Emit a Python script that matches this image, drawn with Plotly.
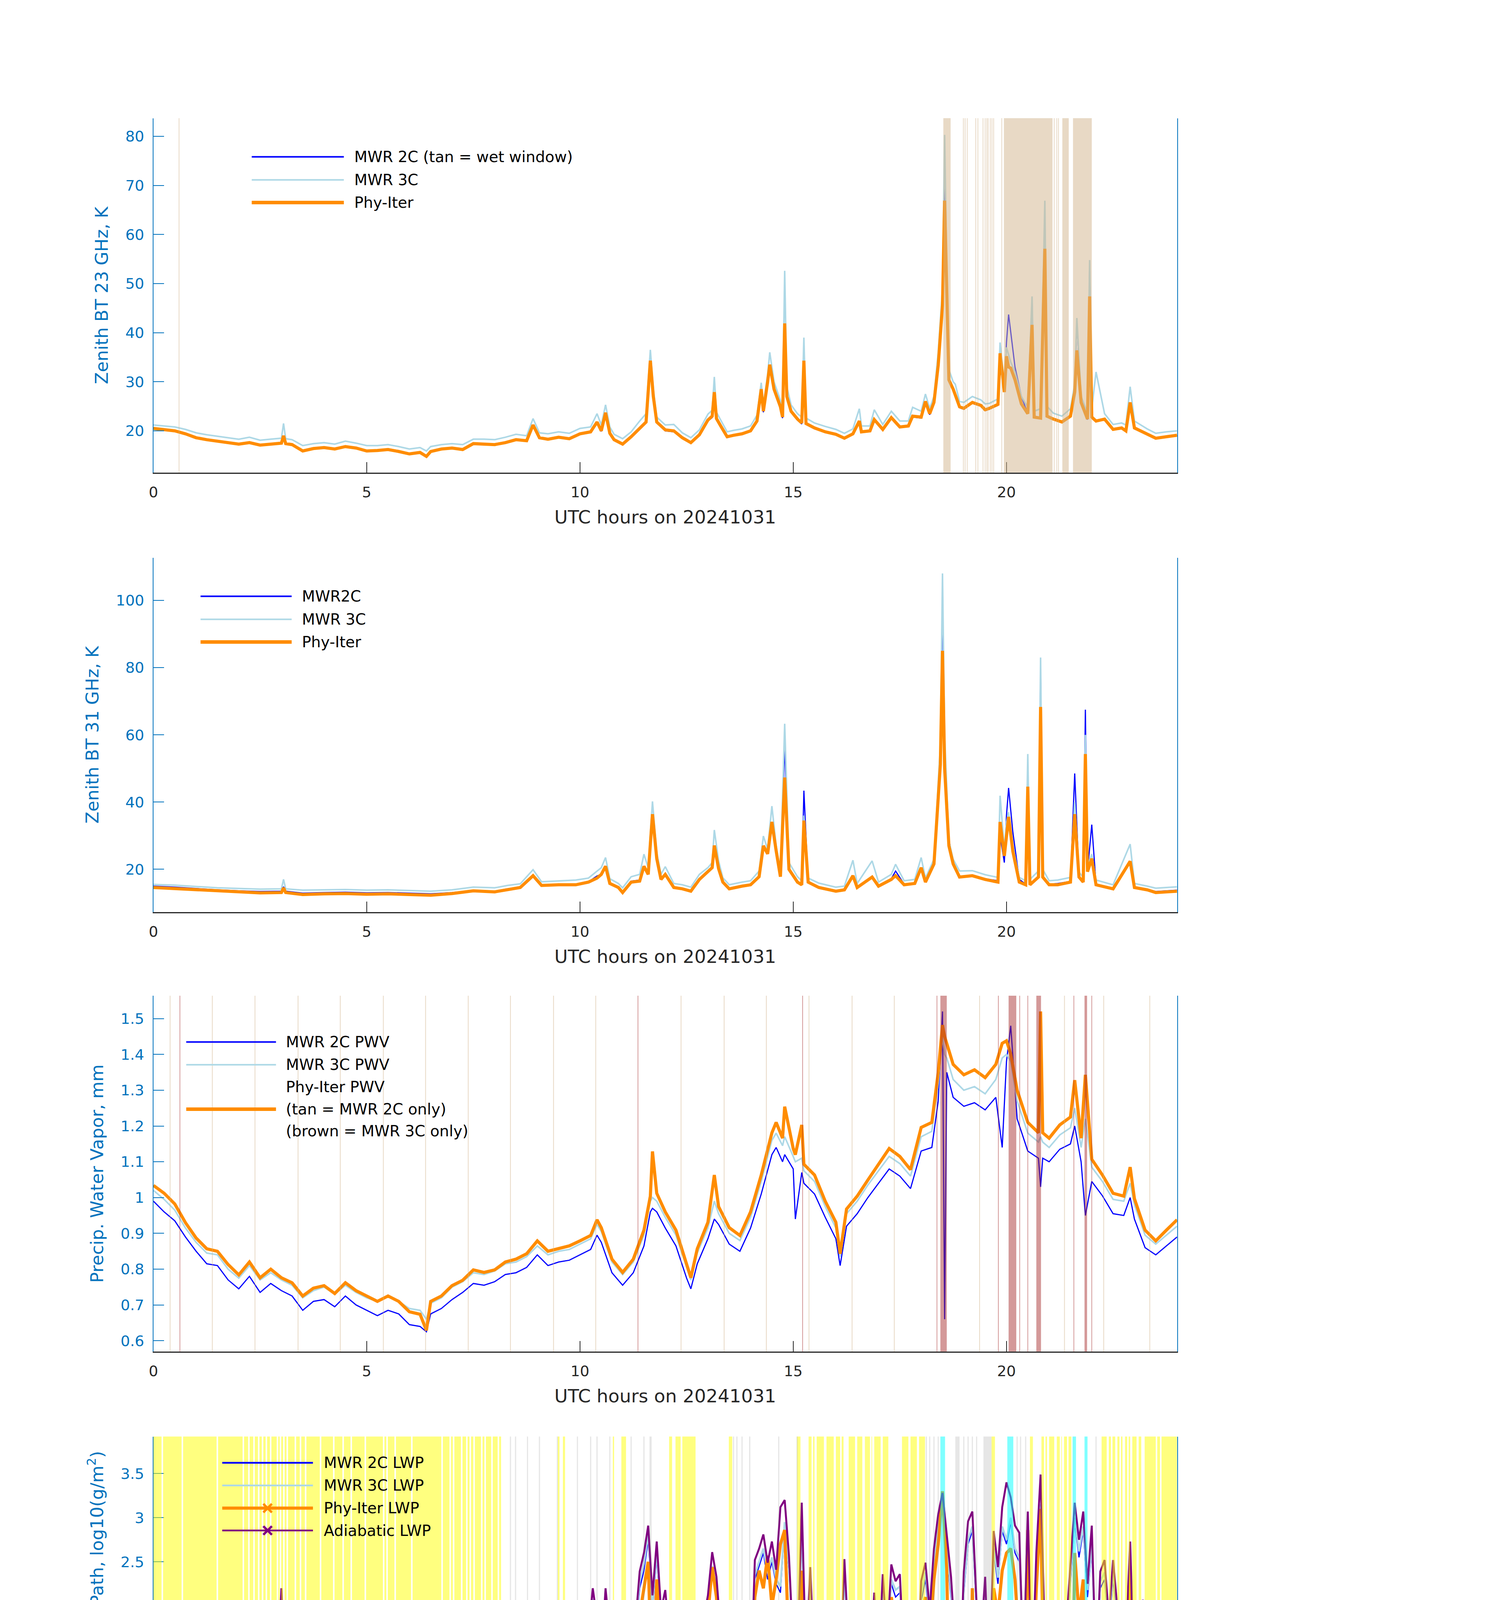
import plotly.graph_objects as go

FONT = "DejaVu Sans"
AXBLUE = "#0072BD"
DARK = "#262626"
C2C = "#0000FF"
C3C = "#ADD8E6"
CPHY = "#FF8C00"
CADI = "#800080"
N = None

# ---------------- panel 1: zenith BT 23 GHz ----------------
t23 = [0, 0.25, 0.5, 0.75, 1, 1.25, 1.5, 1.75, 2, 2.25,
       2.5, 2.75, 3, 3.05, 3.1, 3.25, 3.5, 3.75, 4, 4.25,
       4.5, 4.75, 5, 5.25, 5.5, 5.75, 6, 6.25, 6.4, 6.5,
       6.75, 7, 7.25, 7.5, 7.75, 8, 8.25, 8.5, 8.75, 8.9,
       9.05, 9.25, 9.5, 9.75, 10, 10.25, 10.4, 10.5, 10.6, 10.7,
       10.8, 11, 11.2, 11.4, 11.55, 11.65, 11.72, 11.8, 12, 12.2,
       12.4, 12.6, 12.8, 13, 13.1, 13.15, 13.2, 13.3, 13.45, 13.6,
       13.8, 14, 14.15, 14.25, 14.3, 14.4, 14.45, 14.55, 14.7, 14.75,
       14.8, 14.85, 14.95, 15.1, 15.2, 15.25, 15.3, 15.5, 15.75, 16,
       16.2, 16.4, 16.55, 16.6, 16.8, 16.9, 17.1, 17.3, 17.5, 17.7,
       17.8, 18, 18.1, 18.2, 18.3, 18.4, 18.5, 18.55, 18.6, 18.65,
       18.75, 18.8, 18.9, 19, 19.2, 19.4, 19.5, 19.6, 19.8, 19.85,
       19.95, 20, 20.05, 20.1, 20.2, 20.35, 20.5, 20.6, 20.65, 20.8,
       20.85, 20.9, 20.95, 21.1, 21.3, 21.5, 21.6, 21.65, 21.75, 21.9,
       21.95, 22, 22.1, 22.3, 22.5, 22.7, 22.8, 22.9, 23, 23.3,
       23.5, 23.75, 24]
tb23_phy = [20.5, 20.2, 20.0, 19.4, 18.6, 18.2, 17.9, 17.6, 17.3, 17.6,
            17.1, 17.3, 17.5, 19.0, 17.4, 17.2, 15.9, 16.4, 16.6, 16.3,
            16.8, 16.5, 15.9, 16.0, 16.2, 15.8, 15.3, 15.6, 14.8, 15.8,
            16.3, 16.5, 16.2, 17.4, 17.3, 17.2, 17.6, 18.2, 18.0, 21.2,
            18.6, 18.3, 18.7, 18.4, 19.4, 19.8, 21.8, 20.0, 23.7, 19.5,
            18.2, 17.3, 18.8, 20.6, 21.8, 34.3, 27.0, 21.8, 20.2, 20.0,
            18.6, 17.6, 19.2, 22.2, 23.0, 27.9, 22.5, 21.0, 18.8, 19.1,
            19.4, 20.0, 22.0, 28.5, 24.0, 30.0, 33.5, 28.5, 24.9, 22.8,
            41.9, 27.0, 24.0, 22.4, 21.6, 34.3, 21.5, 20.6, 19.8, 19.3,
            18.5, 19.4, 22.0, 19.8, 20.0, 22.3, 20.3, 22.7, 20.8, 21.0,
            23.0, 22.8, 26.0, 23.5, 25.8, 33.4, 45.6, 66.9, 45.0, 30.4,
            28.5, 27.3, 24.9, 24.6, 25.8, 25.2, 24.3, 24.6, 25.4, 35.8,
            27.9, 35.2, 33.0, 32.8, 30.4, 25.5, 23.5, 41.6, 22.8, 22.6,
            41.0, 57.1, 23.0, 22.4, 21.8, 23.0, 27.9, 36.4, 25.8, 22.4,
            47.4, 22.8, 22.0, 22.4, 20.3, 20.6, 20.0, 25.8, 20.6, 19.4,
            18.5, 18.8, 19.1]
tb23_3c = [21.2, 21.0, 20.8, 20.3, 19.6, 19.2, 18.9, 18.6, 18.3, 18.7,
           18.1, 18.3, 18.5, 21.5, 18.4, 18.2, 17.0, 17.4, 17.6, 17.3,
           17.9, 17.5, 17.0, 17.0, 17.2, 16.8, 16.3, 16.6, 15.9, 16.8,
           17.2, 17.4, 17.2, 18.3, 18.3, 18.2, 18.7, 19.3, 19.0, 22.5,
           19.6, 19.4, 19.8, 19.5, 20.5, 20.8, 23.5, 21.2, 25.3, 20.8,
           19.3, 18.4, 19.8, 22.0, 23.5, 36.5, 28.5, 22.8, 21.2, 21.3,
           19.6, 18.6, 20.2, 23.4, 24.2, 31.0, 23.8, 22.2, 19.8, 20.1,
           20.4, 21.0, 23.2, 29.8, 25.2, 31.5, 36.0, 30.0, 26.2, 24.0,
           52.6, 29.0, 25.3, 23.5, 22.8, 39.0, 22.6, 21.6, 20.9, 20.3,
           19.5, 20.4, 24.5, 21.0, 21.0, 24.3, 21.3, 24.0, 22.0, 22.0,
           24.8, 24.0, 27.5, 24.6, 27.0, 36.0, 49.0, 80.3, 52.0, 32.5,
           30.0, 29.5, 26.0, 25.8, 27.0, 26.3, 25.5, 25.6, 26.5, 38.0,
           29.5, 37.0, 35.5, 34.0, 32.0, 27.0, 24.8, 47.4, 24.0, 24.5,
           45.0, 66.9, 25.0, 23.6, 23.0, 24.5, 29.5, 43.0, 27.0, 23.6,
           54.8, 24.5, 32.0, 23.5, 21.3, 21.6, 21.2, 29.0, 22.0, 20.4,
           19.5, 19.8, 20.0]
tb23_2c = [20.6, 20.3, 20.0, 19.4, 18.6, 18.1, 17.8, 17.5, 17.2, 17.5,
           17.0, 17.2, 17.4, 18.8, 17.3, 17.1, 15.8, 16.3, 16.5, 16.2,
           16.7, 16.4, 15.8, 15.9, 16.1, 15.7, 15.2, 15.5, 14.7, 15.7,
           16.2, 16.4, 16.1, 17.3, 17.2, 17.1, 17.5, 18.1, 17.9, 21.0,
           18.5, 18.2, 18.6, 18.3, 19.3, 19.7, 21.5, 19.9, 23.4, 19.4,
           18.1, 17.2, 18.7, 20.4, 21.6, 34.0, 26.8, 21.6, 20.0, 19.8,
           18.5, 17.5, 19.0, 22.0, 22.7, 27.6, 22.3, 20.8, 18.6, 19.0,
           19.3, 19.9, 21.8, 28.2, 23.8, 29.8, 33.2, 28.3, 24.6, 22.6,
           41.5, 26.8, 23.8, 22.2, 21.4, 34.0, 21.3, 20.4, 19.7, 19.2,
           18.4, 19.3, 21.8, 19.7, 19.9, 22.1, 20.2, 22.5, 20.7, 20.9,
           22.8, 22.6, 25.8, 23.3, 25.6, 33.0, 45.0, 70.0, 46.0, 31.0,
           28.3, 27.1, 24.7, 24.4, 25.6, 25.0, 24.1, 24.4, 25.2, 33.0,
           28.5, 38.0, 43.7, 40.0, 33.0, 27.0, 23.5, 47.0, 23.0, 22.6,
           44.0, 60.0, 23.0, 22.3, 21.7, 22.8, 27.6, 42.5, 25.6, 22.3,
           54.0, 22.6, 22.0, 22.2, 20.2, 20.4, 19.9, 25.5, 20.4, 19.3,
           18.4, 18.7, 19.0]
wet_bands = [(18.52, 18.69), (19.94, 21.08), (21.31, 21.46), (21.56, 22.0)]
wet_lines = [0.6, 18.99, 19.03, 19.08, 19.28, 19.33, 19.45, 19.5, 19.54, 19.57,
             19.62, 19.66, 19.7, 19.89, 21.12, 21.18, 21.22]

# ---------------- panel 2: zenith BT 31 GHz ----------------
t31 = [0, 0.5, 1, 1.5, 2, 2.5, 3, 3.05, 3.1, 3.5,
       4, 4.5, 5, 5.5, 6, 6.5, 7, 7.5, 8, 8.3,
       8.6, 8.9, 9.1, 9.5, 9.9, 10.2, 10.4, 10.5, 10.6, 10.7,
       10.9, 11, 11.2, 11.4, 11.5, 11.6, 11.7, 11.8, 11.9, 12,
       12.2, 12.4, 12.6, 12.8, 13, 13.1, 13.15, 13.25, 13.35, 13.5,
       13.8, 14, 14.2, 14.3, 14.4, 14.5, 14.6, 14.7, 14.8, 14.9,
       15.1, 15.2, 15.25, 15.35, 15.6, 16, 16.2, 16.4, 16.5, 16.85,
       17, 17.3, 17.4, 17.6, 17.85, 18, 18.1, 18.3, 18.45, 18.5,
       18.55, 18.65, 18.75, 18.9, 19.2, 19.5, 19.8, 19.85, 19.95, 20,
       20.05, 20.15, 20.3, 20.45, 20.5, 20.55, 20.75, 20.8, 20.85, 21,
       21.2, 21.5, 21.6, 21.7, 21.8, 21.85, 21.9, 22, 22.1, 22.5,
       22.9, 23, 23.3, 23.5, 24]
tb31_phy = [14.6, 14.3, 13.9, 13.5, 13.2, 13.0, 13.1, 14.5, 13.1, 12.5,
            12.7, 12.8, 12.6, 12.7, 12.5, 12.3, 12.8, 13.6, 13.3, 14.0,
            14.6, 18.1, 15.2, 15.4, 15.4, 16.2, 17.4, 18.5, 20.9, 15.8,
            14.6, 13.1, 16.2, 16.5, 20.9, 18.5, 36.4, 23.2, 17.0, 18.5,
            14.6, 14.2, 13.5, 17.0, 19.3, 20.5, 27.1, 20.2, 16.2, 14.2,
            15.0, 15.4, 17.8, 27.0, 24.6, 34.1, 25.5, 17.8, 47.3, 20.0,
            16.2, 15.4, 34.5, 16.2, 14.6, 13.5, 13.9, 18.1, 14.6, 17.7,
            15.0, 17.0, 18.1, 15.4, 15.8, 20.5, 16.2, 21.6, 51.2, 85.0,
            50.0, 27.0, 21.6, 17.7, 18.1, 17.0, 16.2, 34.1, 24.0, 31.0,
            35.6, 25.3, 16.2, 15.4, 44.6, 15.4, 17.7, 68.3, 17.7, 15.4,
            15.4, 16.2, 36.4, 17.7, 16.2, 54.3, 19.3, 23.2, 15.4, 14.2,
            22.4, 14.6, 13.9, 13.1, 13.5]
tb31_3c = [15.5, 15.3, 14.9, 14.5, 14.3, 14.1, 14.2, 17.0, 14.2, 13.8,
           13.9, 14.0, 13.8, 13.9, 13.7, 13.5, 13.9, 14.7, 14.5, 15.2,
           15.7, 19.9, 16.3, 16.6, 16.8, 17.4, 19.5, 20.5, 23.5, 17.2,
           15.8, 14.5, 17.8, 18.5, 24.5, 20.5, 40.2, 25.0, 18.5, 20.8,
           15.8, 15.4, 14.7, 18.5, 20.5, 22.0, 31.7, 22.5, 17.5, 15.4,
           16.2, 16.6, 19.5, 29.9, 26.0, 38.8, 27.0, 19.5, 63.3, 22.0,
           17.8, 16.6, 36.0, 17.4, 15.9, 14.7, 15.0, 22.7, 15.8, 22.5,
           16.2, 18.5, 21.5, 16.6, 17.0, 23.5, 17.4, 23.0, 57.0, 108.0,
           60.0, 28.5, 23.0, 19.5, 19.6, 18.4, 17.6, 41.9, 26.0, 34.0,
           37.0, 27.0, 17.6, 16.6, 54.3, 17.0, 19.5, 83.0, 20.0, 16.6,
           16.8, 17.6, 40.0, 19.2, 17.6, 60.0, 21.0, 24.5, 16.8, 15.4,
           27.5, 15.8, 15.0, 14.4, 14.8]
tb31_2c = [15.0, 14.7, 14.3, 13.9, 13.6, 13.4, 13.5, 14.8, 13.5, 12.9,
           13.1, 13.2, 13.0, 13.1, 12.9, 12.7, 13.1, 13.7, 13.5, 14.2,
           14.7, 18.0, 15.3, 15.5, 15.6, 16.3, 18.0, 18.5, 21.0, 16.0,
           14.8, 13.4, 16.5, 16.8, 21.0, 18.6, 36.0, 23.0, 17.0, 18.5,
           14.7, 14.4, 13.7, 17.2, 19.3, 20.5, 27.0, 20.4, 16.4, 14.4,
           15.2, 15.5, 18.0, 27.0, 25.0, 33.0, 26.0, 18.0, 57.0, 20.5,
           16.5, 15.6, 43.4, 16.4, 14.8, 13.7, 14.0, 18.0, 14.8, 17.8,
           15.2, 17.2, 19.5, 15.6, 16.0, 20.3, 16.4, 21.5, 52.0, 101.0,
           55.0, 29.0, 22.0, 17.9, 18.2, 17.2, 16.6, 30.0, 22.0, 36.0,
           44.2, 31.0, 17.0, 15.6, 45.0, 15.6, 18.0, 81.0, 18.0, 15.6,
           15.8, 16.4, 48.5, 18.0, 16.5, 67.5, 19.5, 33.3, 15.6, 14.4,
           22.0, 14.8, 14.1, 13.4, 13.8]

# ---------------- panel 3: precipitable water vapor ----------------
tpwv = [0, 0.25, 0.5, 0.75, 1, 1.25, 1.5, 1.75, 2, 2.25,
        2.5, 2.75, 3, 3.25, 3.5, 3.75, 4, 4.25, 4.5, 4.75,
        5, 5.25, 5.5, 5.75, 6, 6.25, 6.4, 6.5, 6.75, 7,
        7.25, 7.5, 7.75, 8, 8.25, 8.5, 8.75, 9, 9.25, 9.5,
        9.75, 10, 10.25, 10.4, 10.5, 10.75, 11, 11.25, 11.5, 11.65,
        11.7, 11.8, 12, 12.25, 12.5, 12.6, 12.75, 13, 13.15, 13.25,
        13.5, 13.75, 14, 14.25, 14.5, 14.6, 14.75, 14.8, 15, 15.05,
        15.2, 15.25, 15.5, 15.75, 16, 16.1, 16.25, 16.5, 16.75, 17,
        17.25, 17.5, 17.75, 18, 18.25, 18.4, 18.5, 18.55, 18.6, 18.75,
        19, 19.25, 19.5, 19.75, 19.9, 20, 20.1, 20.25, 20.5, 20.75,
        20.8, 20.85, 21, 21.25, 21.5, 21.6, 21.75, 21.85, 22, 22.25,
        22.5, 22.75, 22.9, 23, 23.25, 23.5, 23.75, 24]
pwv_phy = [1.034, 1.012, 0.982, 0.93, 0.887, 0.857, 0.85, 0.813, 0.784, 0.82,
           0.776, 0.80, 0.776, 0.762, 0.725, 0.747, 0.754, 0.732, 0.762, 0.74,
           0.725, 0.71, 0.725, 0.71, 0.681, 0.674, 0.629, 0.71, 0.725, 0.754,
           0.769, 0.798, 0.791, 0.798, 0.82, 0.828, 0.843, 0.879, 0.85, 0.857,
           0.865, 0.879, 0.894, 0.938, 0.916, 0.828, 0.791, 0.828, 0.909, 1.004,
           1.129, 1.012, 0.96, 0.909, 0.813, 0.776, 0.857, 0.931, 1.063, 0.975,
           0.916, 0.894, 0.96, 1.063, 1.181, 1.21, 1.166, 1.254, 1.137, 1.12,
           1.203, 1.093, 1.063, 0.99, 0.931, 0.843, 0.968, 1.004, 1.049, 1.093,
           1.137, 1.115, 1.078, 1.196, 1.21, 1.35, 1.482, 1.45, 1.431, 1.372,
           1.343, 1.357, 1.335, 1.372, 1.431, 1.438, 1.401, 1.30, 1.21, 1.181,
           1.52, 1.181, 1.166, 1.203, 1.225, 1.328, 1.166, 1.343, 1.107, 1.063,
           1.012, 1.004, 1.085, 0.997, 0.909, 0.879, 0.909, 0.938]
pwv_3c = [1.02, 0.995, 0.965, 0.915, 0.875, 0.845, 0.84, 0.80, 0.775, 0.81,
          0.77, 0.79, 0.77, 0.755, 0.72, 0.74, 0.75, 0.73, 0.755, 0.735,
          0.72, 0.71, 0.725, 0.71, 0.69, 0.685, 0.66, 0.705, 0.72, 0.75,
          0.765, 0.79, 0.785, 0.795, 0.815, 0.82, 0.835, 0.865, 0.84, 0.85,
          0.855, 0.87, 0.885, 0.925, 0.905, 0.82, 0.785, 0.82, 0.895, 0.99,
          1.0, 0.99, 0.945, 0.895, 0.805, 0.77, 0.845, 0.915, 0.99, 0.955,
          0.90, 0.88, 0.945, 1.045, 1.16, 1.18, 1.145, 1.17, 1.115, 1.10,
          1.11, 1.075, 1.045, 0.975, 0.915, 0.835, 0.955, 0.99, 1.035, 1.075,
          1.115, 1.095, 1.06, 1.17, 1.185, 1.32, 1.45, 1.40, 1.39, 1.33,
          1.30, 1.31, 1.29, 1.33, 1.39, 1.40, 1.38, 1.27, 1.18, 1.155,
          1.17, 1.155, 1.14, 1.175, 1.195, 1.25, 1.14, 1.22, 1.085, 1.045,
          0.995, 0.99, 1.04, 0.98, 0.895, 0.87, 0.895, 0.92]
pwv_2c = [0.99, 0.96, 0.935, 0.89, 0.85, 0.815, 0.81, 0.77, 0.745, 0.78,
          0.735, 0.76, 0.74, 0.725, 0.685, 0.71, 0.715, 0.695, 0.725, 0.70,
          0.685, 0.67, 0.685, 0.675, 0.645, 0.64, 0.625, 0.675, 0.69, 0.715,
          0.735, 0.76, 0.755, 0.765, 0.785, 0.79, 0.805, 0.84, 0.81, 0.82,
          0.825, 0.84, 0.855, 0.895, 0.875, 0.79, 0.755, 0.79, 0.865, 0.96,
          0.97, 0.96, 0.915, 0.865, 0.775, 0.745, 0.815, 0.885, 0.94, 0.925,
          0.87, 0.85, 0.915, 1.01, 1.12, 1.14, 1.10, 1.12, 1.08, 0.94,
          1.07, 1.04, 1.01, 0.945, 0.885, 0.81, 0.92, 0.955, 1.0, 1.04,
          1.08, 1.06, 1.025, 1.13, 1.14, 1.27, 1.52, 0.66, 1.35, 1.28,
          1.255, 1.265, 1.245, 1.28, 1.14, 1.38, 1.48, 1.22, 1.13, 1.11,
          1.03, 1.11, 1.10, 1.135, 1.15, 1.20, 1.10, 0.95, 1.045, 1.005,
          0.955, 0.95, 1.0, 0.94, 0.86, 0.84, 0.865, 0.89]
pwv_tan_lines = [0.39, 1.38, 2.38, 3.39, 4.38, 5.39, 6.38, 7.38, 8.37, 9.38, 10.37,
                 12.37, 13.38, 14.37, 15.37, 16.38, 17.37, 19.37, 21.36, 22.28, 23.36]
pwv_brown_lines = [0.62, 11.36, 15.22, 18.37, 19.81, 20.31, 20.5, 21.58, 22.0]
pwv_brown_bands = [(18.45, 18.6), (20.05, 20.23), (20.7, 20.81), (21.83, 21.89)]

# ---------------- panel 4: liquid water path (0.1 h steps) ----------------
t_lwp = [round(i * 0.1, 1) for i in range(241)]
lwp_2c = [1.35, 1.32, 1.30, 1.28, 1.26, 1.26, 1.24, 1.20, 1.07, 1.15,   # 0 h
          1.18, 1.12, 1.15, 1.05, 1.12, 1.10, 0.90, 1.08, 1.12, 1.04,
          1.05, 1.10, 0.95, 1.08, 0.85, 1.10, 1.00, 1.12, 0.95, 1.30,
          1.13, 1.05, 0.85, 1.00, 1.10, 0.99, 0.80, 1.05, 0.90, 1.00,
          0.94, 1.05, 0.75, 1.00, 0.90, 1.02, 0.85, 1.05, 0.95, 0.85,
          0.97, 1.05, 0.85, 1.00, 1.10, 1.07, 0.90, 1.00, 0.95, 0.85,   # 5 h
          0.94, 1.05, 0.90, 1.00, 0.85, 1.02, 0.95, 1.10, 0.80, 0.95,
          1.07, 1.00, 1.10, 1.20, 1.05, 1.30, 1.10, 1.35, 1.15, 1.05,
          1.15, 1.25, 1.40, 1.25, 1.35, 1.15, 1.05, 1.20, 1.45, 1.85,
          1.65, 1.50, 1.55, 1.35, 1.50, 1.40, 1.15, 1.50, 1.35, 1.75,
          1.50, 1.70, 1.55, 2.00, 1.70, 1.30, 2.05, 1.55, 1.25, 1.05,   # 10 h
          1.50, 1.65, 1.55, 1.65, 2.20, 2.40, 2.75, 1.95, 2.55, 1.85,
          1.95, 1.50, 1.85, 1.15, 1.45, 1.25, 1.10, 1.20, 1.85, 1.75,
          1.95, 2.40, 2.15, 1.60, 1.80, 1.85, 1.10, 1.05, 1.45, 1.10,
          1.05, 2.30, 2.45, 2.60, 2.30, 2.50, 2.25, 2.15, 2.90, 2.40,
          1.45, 1.30, 2.80, 1.30, 2.20, 1.15, 1.55, 1.10, 1.15, 1.05,   # 15 h
          1.45, 1.15, 2.30, 1.45, 1.10, 1.20, 1.85, 1.50, 1.15, 1.95,
          1.25, 2.15, 1.50, 2.25, 2.10, 2.15, 1.25, 1.05, 1.25, 1.05,
          2.05, 2.30, 1.85, 2.45, 2.85, 3.25, 2.60, 2.10, 1.50, 1.00,
          2.15, 2.70, 2.85, 1.90, 1.50, 2.15, 1.00, 2.60, 2.25, 2.85,
          2.70, 2.95, 2.60, 2.50, 1.25, 2.80, 1.10, 2.40, 3.10, 1.50,   # 20 h
          1.85, 1.05, 1.15, 1.10, 1.60, 2.25, 2.95, 2.55, 2.85, 2.10,
          2.65, 1.20, 2.20, 2.30, 1.75, 2.30, 1.85, 1.05, 1.50, 2.50,
          1.05, 1.65, 1.90, 1.05, 1.10, 1.00, 1.15, 1.05, 1.10, 1.00,
          1.10]
lwp_3c = [1.44, 1.43, 1.42, 1.41, 1.40, 1.40, 1.38, 1.37, 1.36, 1.36,   # 0 h
          1.36, 1.35, 1.34, 1.35, 1.33, 1.34, 1.32, 1.33, 1.31, 1.32,
          1.31, 1.30, 1.31, 1.29, 1.30, 1.28, 1.30, 1.28, 1.29, 1.30,
          1.28, 1.29, 1.27, 1.28, 1.29, 1.27, 1.28, 1.26, 1.28, 1.27,
          1.28, 1.27, 1.29, 1.28, 1.26, 1.28, 1.27, 1.29, 1.28, 1.27,
          1.27, 1.26, 1.28, 1.27, 1.26, 1.28, 1.27, 1.26, 1.27, 1.28,   # 5 h
          1.28, 1.27, 1.26, 1.28, 1.27, 1.25, 1.27, 1.26, 1.28, 1.26,
          1.26, 1.25, 1.27, 1.30, 1.25, 1.40, 1.28, 1.42, 1.30, 1.22,
          1.22, 1.32, 1.48, 1.32, 1.42, 1.22, 1.15, 1.28, 1.52, 1.92,
          1.72, 1.58, 1.62, 1.42, 1.58, 1.48, 1.22, 1.58, 1.42, 1.82,
          1.58, 1.78, 1.62, 2.08, 1.78, 1.38, 2.12, 1.62, 1.32, 1.15,   # 10 h
          1.58, 1.72, 1.62, 1.72, 2.28, 2.48, 2.82, 2.02, 2.62, 1.92,
          2.02, 1.58, 1.92, 1.25, 1.52, 1.32, 1.22, 1.28, 1.92, 1.82,
          2.02, 2.45, 2.22, 1.68, 1.88, 1.92, 1.25, 1.20, 1.52, 1.22,
          1.20, 2.35, 2.50, 2.65, 2.38, 2.55, 2.30, 2.22, 2.95, 2.45,
          1.52, 1.38, 2.85, 1.38, 2.28, 1.25, 1.62, 1.22, 1.25, 1.20,   # 15 h
          1.52, 1.25, 2.35, 1.52, 1.22, 1.28, 1.92, 1.58, 1.25, 2.02,
          1.32, 2.22, 1.58, 2.30, 2.18, 2.22, 1.32, 1.22, 1.32, 1.20,
          2.12, 2.38, 1.92, 2.52, 2.92, 3.30, 2.65, 2.18, 1.58, 1.20,
          2.22, 2.75, 2.90, 1.98, 1.58, 2.22, 1.20, 2.65, 2.32, 2.90,
          2.75, 3.00, 2.65, 2.55, 1.32, 2.85, 1.22, 2.45, 3.15, 1.58,   # 20 h
          1.92, 1.20, 1.25, 1.22, 1.68, 2.32, 3.00, 2.62, 2.90, 2.18,
          2.70, 1.28, 2.28, 2.38, 1.82, 2.38, 1.92, 1.20, 1.58, 2.58,
          1.22, 1.72, 1.98, 1.22, 1.25, 1.20, 1.28, 1.22, 1.26, 1.22,
          1.24]
# -0.3 marks retrievals that fall below the axis (log10 of ~0)
lwp_phy = [N, N, N, N, N, N, N, N, N, N,   # 0 h
           N, N, N, N, N, N, N, N, N, N,
           0.73, -0.3, N, 0.0, -0.3, N, N, N, N, 1.28,
           0.76, N, 0.73, 0.52, N, N, N, N, N, 1.0,
           -0.3, N, 1.07, 0.45, N, N, 1.0, 0.4, N, 0.95,
           0.2, N, N, N, 1.1, 0.6, 0.75, 0.3, N, N,   # 5 h
           N, N, N, N, N, N, N, N, N, 0.7,
           0.3, N, N, -0.3, 1.05, 1.25, -0.3, 1.15, -0.3, 1.05,
           -0.3, 1.10, 1.30, -0.3, 1.20, -0.3, 1.00, 1.25, -0.3, 1.80,
           1.45, 0.50, 1.40, 1.10, 1.35, 0.30, -0.3, 1.45, 1.20, 1.70,
           1.35, 1.60, 1.40, 0.75, 1.70, 0.95, 1.90, 1.40, 0.70, 1.00,   # 10 h
           1.40, 1.50, 1.30, 0.50, 1.90, 2.20, 2.50, 0.90, 2.30, 1.60,
           -0.3, 1.40, -0.3, 1.00, 1.30, 1.10, 0.90, 1.05, 1.75, 1.60,
           1.90, 2.44, 2.10, 1.30, 1.60, 1.50, -0.3, -0.3, 0.30, -0.3,
           0.90, 2.10, 2.40, 2.20, 2.57, 2.00, 2.30, 2.70, 2.86, 1.50,
           0.78, 1.20, 2.40, 0.60, 0.02, 1.00, 0.20, 1.00, 1.10, 0.90,   # 15 h
           1.40, -0.3, 1.90, 1.10, -0.3, 1.10, 1.70, 0.40, 1.00, 0.52,
           1.10, 1.90, -0.3, 2.10, 1.80, 0.60, 1.10, 0.52, 0.90, -0.3,
           1.90, 2.10, 1.60, 2.30, 2.70, 3.30, 2.40, -0.3, -0.3, 0.40,
           1.60, -0.3, 2.20, -0.3, -0.3, 1.20, -0.3, 2.20, 1.90, 2.40,
           2.60, 2.65, 2.30, 1.60, 0.81, 2.86, 0.90, 2.20, 3.10, 0.55,   # 20 h
           1.60, 0.80, -0.3, -0.3, 1.30, -0.3, 2.60, 1.90, 2.30, -0.3,
           -0.3, 1.00, -0.3, -0.3, 1.50, 2.00, 1.30, -0.3, -0.3, 2.45,
           -0.3, -0.3, 1.50, N, N, N, N, N, N, N,
           N]
lwp_adi = [N, N, N, N, N, N, N, N, N, N,   # 0 h
           N, N, N, N, N, N, N, N, N, N,
           N, N, N, N, N, N, N, N, N, 1.16,
           2.20, 1.10, N, N, N, N, N, N, N, N,
           N, N, N, N, N, N, N, N, N, N,
           N, N, N, N, N, N, N, N, N, N,   # 5 h
           N, N, N, N, N, N, N, N, N, N,
           N, N, N, 1.30, 1.20, 1.55, 1.20, 1.44, 1.25, 1.07,
           1.20, 1.35, 1.55, 1.34, 1.47, 1.25, 1.10, 1.34, 1.60, 2.02,
           1.75, 1.60, 1.70, 1.45, 1.62, 1.50, 1.20, 1.65, 1.45, 1.91,
           1.60, 1.85, 1.68, 2.20, 1.85, 1.38, 2.20, 1.68, 1.34, 1.10,   # 10 h
           1.60, 1.78, 1.65, 1.80, 2.39, 2.60, 2.91, 2.12, 2.73, 1.95,
           2.18, 1.60, 2.02, 1.20, 1.55, 1.30, 1.15, 1.25, 1.99, 1.85,
           2.12, 2.61, 2.33, 1.70, 1.91, 2.00, 1.10, 1.00, 1.73, 1.05,
           1.00, 2.52, 2.65, 2.81, 2.49, 2.73, 2.41, 3.12, 3.20, 2.57,
           1.52, 1.34, 3.17, 1.34, 2.44, 1.20, 1.73, 1.15, 1.20, 1.10,   # 15 h
           1.65, 1.20, 2.53, 1.55, 1.15, 1.25, 2.02, 1.65, 1.20, 2.15,
           1.30, 2.36, 1.60, 2.47, 2.28, 2.36, 1.34, 1.10, 1.34, 1.10,
           2.28, 2.49, 1.95, 2.65, 3.04, 3.28, 2.83, 2.33, 1.60, 1.00,
           2.39, 2.96, 3.07, 2.02, 1.60, 2.33, 0.99, 2.85, 2.44, 3.12,
           3.40, 3.23, 2.91, 2.83, 1.28, 3.07, 1.13, 2.60, 3.49, 1.60,   # 20 h
           1.97, 1.10, 1.25, 1.15, 1.76, 2.47, 3.17, 2.75, 3.07, 2.25,
           2.91, 1.25, 2.39, 2.52, 1.86, 2.52, 1.97, 1.10, 1.60, 2.73,
           1.10, 1.78, 2.07, 1.05, N, N, N, N, N, N,
           N]
# isolated retrievals drawn as x markers
phy_x_t = [2.61, 2.65, 2.69, 2.89, 2.96, 3.2, 4.13, 4.8, 4.83, 5.19, 6.75, 6.9,
           15.95, 16.53, 16.96, 20.39, 22.34, 23.79]
phy_x_v = [0.43, 0.26, 0.14, -0.06, 0.38, 0.72, -0.08, 0.56, 0.04, 0.43, 0.02, 0.43,
           0.02, 0.39, 1.0, 0.84, 0.56, 0.65]
adi_x_t = [0.1, 0.19, 1.47, 1.5, 2.14, 2.61, 2.69, 2.89, 2.96, 3.2, 3.66, 4.16, 4.8,
           4.91, 5.19, 6.12, 6.51, 6.67, 6.82, 6.98, 7.2, 7.95, 10.88, 12.28, 12.63,
           15.91, 16.53, 16.92, 20.43, 21.13, 21.25, 22.38, 22.73, 23.79, 23.94]
adi_x_v = [1.15, 1.40, 1.49, 1.20, 1.13, 1.09, 1.22, 1.53, 1.16, 1.10, 1.09, 1.10, 1.10,
           1.10, 1.10, 1.10, 1.11, 1.11, 1.11, 1.11, 1.11, 1.14, 1.20, 1.18, 1.17,
           1.09, 1.56, 1.78, 1.31, 1.03, 1.14, 1.91, 1.07, 1.47, 1.09]
lwp_yellow = [(0.0, 8.15), (9.48, 9.52), (9.6, 9.65), (10.77, 10.8), (10.97, 11.08),
              (12.09, 12.16), (12.24, 12.36), (12.4, 12.71), (13.49, 13.57), (15.09, 15.17),
              (15.36, 15.5), (15.55, 15.72), (15.78, 15.95), (16.0, 16.18), (16.3, 16.45),
              (16.5, 16.62), (16.68, 16.85), (16.9, 17.05), (17.1, 17.23), (17.55, 17.7),
              (17.75, 17.9), (17.95, 18.09), (19.65, 19.73), (20.55, 20.62), (20.82, 20.95),
              (21.0, 21.12), (21.18, 21.3), (21.35, 21.52), (22.23, 22.35), (22.4, 22.55),
              (22.6, 22.72), (22.78, 22.9), (22.95, 23.05), (23.1, 23.16), (23.24, 24.0)]
lwp_yellow_gaps = [0.19, 0.66, 1.48, 2.09, 2.22, 2.34, 2.45, 2.54, 2.63, 2.73, 2.89,
                   2.96, 3.04, 3.12, 3.31, 3.43, 3.55, 3.9, 4.21, 4.43, 4.62, 4.95,
                   5.38, 5.46, 5.65, 6.04, 6.75, 6.94, 7.02, 7.21, 7.33, 7.41, 7.5,
                   7.68, 7.76, 7.92, 8.07, 15.43, 15.75, 16.1, 16.8, 20.88, 21.25,
                   21.42, 22.45, 22.65, 22.83, 23.5, 23.6]
lwp_grey_lines = [8.37, 8.49, 8.77, 9.05, 9.47, 9.94, 10.25, 10.4, 10.7, 11.2, 11.5,
                  13.6, 13.68, 13.8, 13.98, 14.66, 15.09, 18.12, 18.2, 18.3, 18.4,
                  19.0, 19.1, 19.2, 19.3, 20.25, 20.33, 20.45, 22.1]
lwp_grey_bands = [(11.63, 11.68), (18.8, 18.9), (19.46, 19.65)]
lwp_cyan = [(18.45, 18.56), (20.02, 20.16), (21.55, 21.63), (21.83, 21.9)]

# ---------------- panel 5: DQ flag (runs of consecutive samples) ----------------
dq_runs = {
    0: [(0.18, 0.18), (1.48, 1.48), (2.09, 2.09), (2.24, 2.24), (2.68, 2.68), (2.9, 3.05),
        (3.87, 3.87), (4.22, 4.22), (4.36, 4.43), (4.64, 4.64), (4.94, 4.94), (5.42, 5.42),
        (7.01, 7.01), (7.37, 7.57), (7.73, 7.73), (8.02, 8.02), (8.17, 10.99), (11.06, 12.08),
        (12.19, 12.45), (12.61, 12.61), (12.73, 13.5), (13.58, 15.13), (15.21, 15.44),
        (15.75, 15.75), (16.04, 16.04), (16.22, 16.32), (16.53, 17.1), (17.19, 17.56),
        (17.64, 17.64), (17.97, 18.46), (18.54, 18.8), (18.88, 19.53), (19.67, 20.04),
        (20.13, 20.86), (20.97, 21.14), (21.32, 21.32), (21.41, 21.56), (21.62, 21.84),
        (21.9, 22.26), (22.31, 22.52), (22.72, 23.03), (23.11, 23.11), (23.18, 23.18),
        (23.78, 23.78)],
    3: [(0.66, 0.66), (1.45, 1.45), (3.11, 3.11), (12.42, 12.42), (15.6, 15.6), (16.2, 16.2),
        (16.62, 16.62), (17.86, 17.86), (19.48, 19.48), (20.69, 20.69), (22.12, 22.12),
        (22.41, 22.41)],
    4: [(0.06, 0.06), (2.09, 2.35), (2.44, 2.44), (2.63, 2.63), (3.13, 3.36), (3.67, 3.67),
        (3.87, 3.99), (4.15, 4.15), (4.24, 4.24), (4.37, 4.47), (4.61, 4.75), (4.8, 4.95),
        (5.0, 5.11), (5.2, 5.2), (5.43, 5.43), (5.64, 5.64), (6.12, 6.12), (6.55, 6.55),
        (6.71, 6.71), (6.92, 7.15), (7.25, 7.43), (7.51, 8.08), (8.16, 8.16), (8.31, 8.31),
        (8.73, 8.73), (9.51, 9.66), (10.76, 10.76), (10.89, 10.89), (11.0, 11.0),
        (11.26, 11.26), (12.09, 12.09), (12.27, 12.27), (12.39, 12.47), (12.73, 12.73),
        (13.54, 13.81), (13.97, 14.05), (14.67, 14.67), (15.07, 15.07), (15.36, 15.6),
        (15.91, 15.91), (16.65, 16.65), (16.99, 16.99), (17.32, 17.32), (17.53, 17.53),
        (17.73, 17.99), (18.09, 18.24), (18.8, 19.31), (19.42, 19.67), (20.35, 20.35),
        (20.71, 20.71), (20.86, 20.86), (21.05, 21.13), (21.3, 21.3), (21.48, 21.53),
        (22.07, 22.27), (22.43, 22.52), (22.77, 22.77), (22.92, 23.03), (23.22, 23.22),
        (23.91, 23.91)],
    5: [(0.0, 2.1), (2.14, 3.03), (3.07, 3.35), (3.38, 4.37), (4.41, 4.55), (4.58, 5.4),
        (5.44, 7.03), (7.12, 7.12), (7.25, 7.25), (7.42, 7.42), (7.57, 7.62), (7.8, 7.9),
        (8.04, 8.16), (9.49, 9.49), (10.9, 11.06), (12.12, 12.26), (12.45, 12.73),
        (13.5, 13.5), (15.13, 15.13), (15.41, 15.41), (15.56, 16.21), (16.29, 16.6),
        (16.71, 17.19), (17.53, 17.95), (19.66, 19.66), (20.4, 20.4), (20.68, 20.68),
        (20.83, 21.02), (21.1, 21.44), (21.9, 21.9), (22.29, 22.88), (23.03, 24.0)],
    6: [(10.61, 10.61), (18.46, 18.54), (18.8, 18.8), (20.8, 20.8), (21.82, 21.82)],
    9: [(18.52, 18.52), (20.05, 20.05), (21.83, 21.83)],
    10: [(18.52, 18.52), (20.02, 20.17), (21.57, 21.57), (21.83, 21.83)],
    11: [(18.52, 18.52), (20.0, 20.17), (21.57, 21.57), (21.86, 21.86)],
}

for arr in (tb23_phy, tb23_3c, tb23_2c):
    assert len(arr) == len(t23)
for arr in (tb31_phy, tb31_3c, tb31_2c):
    assert len(arr) == len(t31)
for arr in (pwv_phy, pwv_3c, pwv_2c):
    assert len(arr) == len(tpwv)
for arr in (lwp_2c, lwp_3c, lwp_phy, lwp_adi):
    assert len(arr) == len(t_lwp)

# ---------------- figure ----------------
XDOM = [0.0978, 0.7851]
YDOM = {1: [0.7997, 0.9509], 2: [0.6122, 0.7634], 3: [0.4247, 0.5765],
        4: [0.2372, 0.3884], 5: [0.0491, 0.2009]}

fig = go.Figure()


def axes(n):
    return ("x", "y") if n == 1 else (f"x{n}", f"y{n}")


def add_line(n, x, y, color, width):
    xa, ya = axes(n)
    fig.add_trace(go.Scatter(x=x, y=y, mode="lines", xaxis=xa, yaxis=ya,
                             line=dict(color=color, width=width),
                             showlegend=False, hoverinfo="skip"))


def add_band(n, t0, t1, color):
    xa, ya = axes(n)
    fig.add_shape(type="rect", xref=xa, yref=f"{ya} domain", x0=t0, x1=t1, y0=0, y1=1,
                  fillcolor=color, line=dict(width=0), layer="above")


def add_vline(n, t, color, width):
    xa, ya = axes(n)
    fig.add_shape(type="line", xref=xa, yref=f"{ya} domain", x0=t, x1=t, y0=0, y1=1,
                  line=dict(color=color, width=width), layer="above")


TAN = "rgba(210,180,140,0.5)"
BROWN = "rgba(165,42,42,0.48)"
YELLOW = "rgba(255,255,0,0.5)"
CYAN = "rgba(0,255,255,0.5)"
GREY = "rgba(128,128,128,0.2)"

# panel 1
add_line(1, t23, tb23_2c, C2C, 3)
add_line(1, t23, tb23_3c, C3C, 4)
add_line(1, t23, tb23_phy, CPHY, 8)
for s, e in wet_bands:
    add_band(1, s, e, TAN)
for t in wet_lines:
    add_vline(1, t, TAN, 2)

# panel 2
add_line(2, t31, tb31_2c, C2C, 3)
add_line(2, t31, tb31_3c, C3C, 4)
add_line(2, t31, tb31_phy, CPHY, 8)

# panel 3
add_line(3, tpwv, pwv_2c, C2C, 3)
add_line(3, tpwv, pwv_3c, C3C, 4)
add_line(3, tpwv, pwv_phy, CPHY, 8)
for t in pwv_tan_lines:
    add_vline(3, t, TAN, 2)
for t in pwv_brown_lines:
    add_vline(3, t, BROWN, 2)
for s, e in pwv_brown_bands:
    add_band(3, s, e, BROWN)

# panel 4
add_line(4, t_lwp, lwp_2c, C2C, 3)
add_line(4, t_lwp, lwp_3c, C3C, 5)
add_line(4, t_lwp, lwp_phy, CPHY, 8)
add_line(4, t_lwp, lwp_adi, CADI, 5)
for xs, ys, col in ((phy_x_t, phy_x_v, CPHY), (adi_x_t, adi_x_v, CADI)):
    fig.add_trace(go.Scatter(x=xs, y=ys, mode="markers", xaxis="x4", yaxis="y4",
                             marker=dict(symbol="x-thin", size=22, color=col,
                                         line=dict(width=6, color=col)),
                             showlegend=False, hoverinfo="skip"))
GAPW = 0.035
for s, e in lwp_yellow:
    cuts = [g for g in lwp_yellow_gaps if s < g < e]
    start = s
    for g in cuts:
        add_band(4, start, g, YELLOW)
        start = g + GAPW
    add_band(4, start, e, YELLOW)
for t in lwp_grey_lines:
    add_vline(4, t, GREY, 3)
for s, e in lwp_grey_bands:
    add_band(4, s, e, GREY)
for s, e in lwp_cyan:
    add_band(4, s, e, CYAN)

# panel 5
for lvl, runs in dq_runs.items():
    xs, ys = [], []
    for s, e in runs:
        xs += [s, e, None]
        ys += [lvl, lvl, None]
    fig.add_trace(go.Scatter(x=xs, y=ys, mode="lines+markers", xaxis="x5", yaxis="y5",
                             line=dict(color=CPHY, width=9),
                             marker=dict(color=CPHY, size=9, symbol="circle"),
                             showlegend=False, hoverinfo="skip"))

# ---------------- hand-drawn legends (long sample lines as in the original) ----------------
LEGFONT = 39
legends = {
    1: dict(x0=0.096, x1=0.186, xt=0.1953, rows=[
        (0.891, C2C, 4, "MWR 2C (tan = wet window)", False),
        (0.826, C3C, 4, "MWR 3C", False),
        (0.762, CPHY, 9, "Phy-Iter", False)]),
    2: dict(x0=0.046, x1=0.135, xt=0.1444, rows=[
        (0.891, C2C, 4, "MWR2C", False),
        (0.826, C3C, 4, "MWR 3C", False),
        (0.762, CPHY, 9, "Phy-Iter", False)]),
    3: dict(x0=0.032, x1=0.1197, xt=0.1288, rows=[
        (0.870, C2C, 4, "MWR 2C PWV", False),
        (0.806, C3C, 4, "MWR 3C PWV", False),
        (0.681, CPHY, 9, "(tan = MWR 2C only)", False)]),
    4: dict(x0=0.0672, x1=0.1558, xt=0.1657, rows=[
        (0.926, C2C, 4.5, "MWR 2C LWP", False),
        (0.862, C3C, 4.5, "MWR 3C LWP", False),
        (0.798, CPHY, 8, "Phy-Iter LWP", True),
        (0.735, CADI, 4.5, "Adiabatic LWP", True)]),
}
extra_text = {3: [(0.744, "Phy-Iter PWV"), (0.620, "(brown = MWR 3C only)")]}

annotations = []
for n, lg in legends.items():
    xa, ya = axes(n)
    xr, yr = f"{xa} domain", f"{ya} domain"
    hx = 11 / (2632.0)
    hy = 11 / (6000.0 * (YDOM[n][1] - YDOM[n][0]))
    xm = 0.5 * (lg["x0"] + lg["x1"])
    for y, col, w, label, mark in lg["rows"]:
        fig.add_shape(type="line", xref=xr, yref=yr, x0=lg["x0"], x1=lg["x1"], y0=y, y1=y,
                      line=dict(color=col, width=w), layer="above")
        if mark:
            for sgn in (1, -1):
                fig.add_shape(type="line", xref=xr, yref=yr, x0=xm - hx, x1=xm + hx,
                              y0=y - sgn * hy, y1=y + sgn * hy,
                              line=dict(color=col, width=6), layer="above")
        annotations.append(dict(xref=xr, yref=yr, x=lg["xt"], y=y, text=label,
                                showarrow=False, xanchor="left", yanchor="middle",
                                font=dict(family=FONT, size=LEGFONT, color="black")))
    for y, label in extra_text.get(n, []):
        annotations.append(dict(xref=xr, yref=yr, x=lg["xt"], y=y, text=label,
                                showarrow=False, xanchor="left", yanchor="middle",
                                font=dict(family=FONT, size=LEGFONT, color="black")))

# ---------------- axes ----------------
yspec = {
    1: dict(title="Zenith BT 23 GHz, K", range=[11.5, 83.7],
            tickvals=[20, 30, 40, 50, 60, 70, 80]),
    2: dict(title="Zenith BT 31 GHz, K", range=[7.3, 112.7],
            tickvals=[20, 40, 60, 80, 100]),
    3: dict(title="Precip. Water Vapor, mm", range=[0.570, 1.564],
            tickvals=[0.6, 0.7, 0.8, 0.9, 1.0, 1.1, 1.2, 1.3, 1.4, 1.5],
            ticktext=["0.6", "0.7", "0.8", "0.9", "1", "1.1", "1.2", "1.3", "1.4", "1.5"]),
    4: dict(title="log10 Liquid Water Path, log10(g/m<sup>2</sup>)", range=[-0.098, 3.92],
            tickvals=[0, 0.5, 1, 1.5, 2, 2.5, 3, 3.5],
            ticktext=["0", "0.5", "1", "1.5", "2", "2.5", "3", "3.5"]),
    5: dict(title="MWR Phy Iter DQ Flag", range=[-0.535, 11.53],
            tickvals=[0, 2, 4, 6, 8, 10]),
}

layout_axes = {}
for n in range(1, 6):
    xa, ya = axes(n)
    xkey = "xaxis" if n == 1 else f"xaxis{n}"
    ykey = "yaxis" if n == 1 else f"yaxis{n}"
    layout_axes[xkey] = dict(
        domain=XDOM, anchor=ya, range=[0, 24], tickvals=[0, 5, 10, 15, 20],
        ticks="inside", ticklen=27, tickwidth=2, tickcolor=DARK,
        showline=True, linecolor=DARK, linewidth=3, mirror=False,
        showgrid=False, zeroline=False, ticklabelstandoff=15,
        tickfont=dict(family=FONT, size=38, color=DARK),
        title=dict(text="UTC hours on 20241031", standoff=26,
                   font=dict(family=FONT, size=47, color=DARK)))
    sp = yspec[n]
    yd = dict(
        domain=YDOM[n], anchor=xa, range=sp["range"], tickvals=sp["tickvals"],
        ticks="inside", ticklen=27, tickwidth=2, tickcolor=AXBLUE,
        showline=True, linecolor=AXBLUE, linewidth=2, mirror=True,
        showgrid=False, zeroline=False, ticklabelstandoff=14,
        tickfont=dict(family=FONT, size=38, color=AXBLUE),
        title=dict(text=sp["title"], standoff=30,
                   font=dict(family=FONT, size=45, color=AXBLUE)))
    if "ticktext" in sp:
        yd["ticktext"] = sp["ticktext"]
    layout_axes[ykey] = yd

fig.update_layout(
    width=3825, height=6000,
    margin=dict(l=0, r=0, t=0, b=0),
    paper_bgcolor="white", plot_bgcolor="white",
    showlegend=False,
    font=dict(family=FONT, color=DARK),
    annotations=annotations,
    **layout_axes,
)

fig.write_html("out.html")
